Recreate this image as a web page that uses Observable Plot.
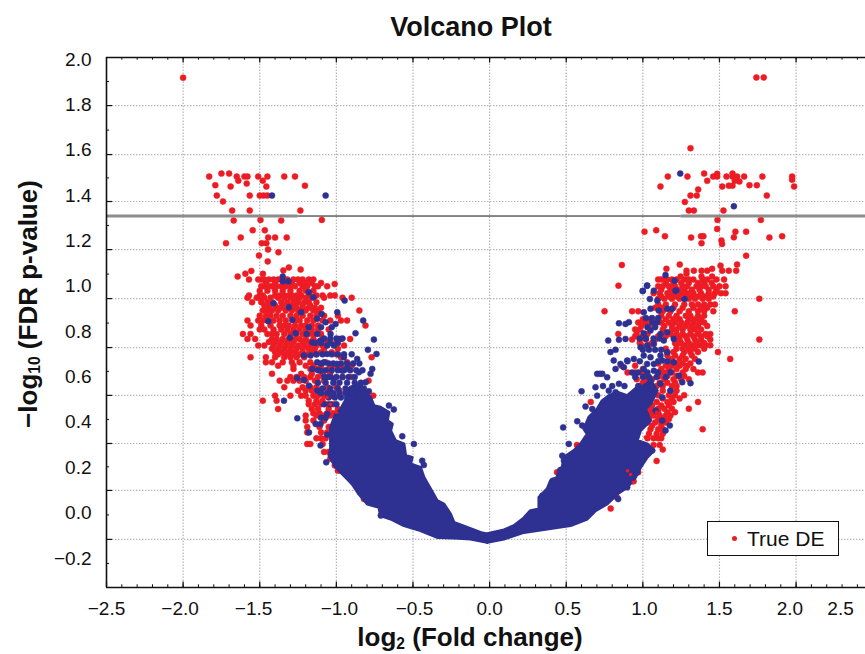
<!DOCTYPE html>
<html><head><meta charset="utf-8">
<script src="https://cdn.jsdelivr.net/npm/d3@7"></script>
<script src="https://cdn.jsdelivr.net/npm/@observablehq/plot@0.6"></script>
<style>
html,body{margin:0;padding:0;background:#fff;overflow:hidden}
body{width:865px;height:654px;position:relative;font-family:"Liberation Sans",Arial,sans-serif;color:#111}
#title{height:40px;box-sizing:border-box;padding-top:12px;padding-left:77px;text-align:center;font-weight:bold;font-size:27px;line-height:30px}
#chart svg{display:block}
#xlabel{position:absolute;left:0;width:940px;top:622px;height:30px;text-align:center;font-weight:bold;font-size:26px;line-height:30px;white-space:nowrap}
#ylabel{position:absolute;left:28px;top:304px;transform:translate(-50%,-50%) rotate(-90deg);font-weight:bold;font-size:26px;white-space:nowrap}
sub{font-size:60%;line-height:0;vertical-align:-0.2em}
#legend{position:absolute;left:707px;top:521px;width:130px;height:33px;border:1.5px solid #111;background:#fff;font-size:21px;line-height:33px;box-sizing:content-box}
#legend i{position:absolute;left:23.5px;top:13.5px;width:5.5px;height:5.5px;border-radius:50%;background:#ed1c24}
#legend span{position:absolute;left:39px;top:0}
</style></head><body>
<div id="title">Volcano Plot</div>
<div id="chart"></div>
<div id="xlabel">log<sub>2</sub> (Fold change)</div>
<div id="ylabel">−log<sub>10</sub> (FDR p-value)</div>
<div id="legend"><i></i><span>True DE</span></div>
<script>
const xTicks=[-2,-1.5,-1,-0.5,0,0.5,1,1.5,2];
const xTickLabels=["−2.5","−2.0","−1.5","−1.0","−0.5","0.0","0.5","1.0","1.5","2.0","2.5"];
const xLabelAt=[-2.5,-2.02,-1.54,-0.98,-0.49,0,0.51,1.01,1.5,1.96,2.29];
const yLabels=[2,1.8,1.6,1.4,1.2,1,0.8,0.6,0.4,0.2,0,-0.2];
const yGrid=[1.797,1.581,1.374,1.162,0.946,0.73,0.519,0.307,0.1,-0.116];
const yMinor=[1.903,1.689,1.478,1.268,1.054,0.838,0.625,0.413,0.204,-0.008,-0.222];
const xDomain=[-2.5,2.453], yDomain=[-0.328,2.009];
const threshold=1.31;

const redLeftOutliers=[[-2,1.92],[-1.83,1.484],[-1.75,1.497],[-1.7,1.497],[-1.65,1.484],[-1.64,1.466],[-1.6,1.484],[-1.58,1.484],[-1.79,1.446],[-1.69,1.44],[-1.585,1.453],[-1.51,1.484],[-1.45,1.484],[-1.48,1.466],[-1.457,1.44],[-1.34,1.484],[-1.27,1.484],[-1.205,1.444],[-1.78,1.4],[-1.565,1.4],[-1.5,1.4],[-1.475,1.4],[-1.45,1.4],[-1.74,1.374],[-1.68,1.334],[-1.565,1.334],[-1.235,1.334],[-1.67,1.29],[-1.495,1.293],[-1.36,1.29],[-1.095,1.293],[-1.546,1.247],[-1.467,1.247],[-1.624,1.215],[-1.445,1.215],[-1.4,1.215],[-1.324,1.215],[-1.72,1.19],[-1.487,1.19],[-1.457,1.19],[-1.446,1.162],[-1.378,1.15],[-1.505,1.136],[-1.448,1.11],[-1.31,1.083],[-1.346,1.07],[-1.233,1.074],[-1.555,1.068],[-1.594,1.056],[-1.644,1.043],[-1.479,1.055],[-1.011,1.01]];
const redLeftRows=[
[1.03,[-1.57,-1.51,-1.49,-1.47,-1.44,-1.41,-1.38,-1.35,-1.32,-1.28,-1.25,-1.22,-1.18,-1.15]],
[1.015,[-1.46,-1.4,-1.34,-1.29,-1.24,-1.2,-1.16,-1.1]],
[1.0,[-1.49,-1.47,-1.44,-1.42,-1.39,-1.36,-1.33,-1.3,-1.27,-1.22,-1.19,-1.14,-1.12,-1.06]],
[0.98,[-1.5,-1.45,-1.4,-1.35,-1.3,-1.24,-1.2,-1.15]],
[0.96,[-1.57,-1.5,-1.48,-1.4,-1.37,-1.34,-1.31,-1.29,-1.26,-1.23,-1.18,-1.13,-1.09,-1.04,-1.01]],
[0.95,[-1.58,-1.52,-1.5,-1.47,-1.43,-1.38,-1.34,-1.3,-1.27,-1.24,-1.2,-1.16,-1.08,-0.96,-0.9]],
[0.93,[-1.55,-1.49,-1.45,-1.42,-1.36,-1.32,-1.28,-1.25,-1.21,-1.18,-1.13]],
[0.915,[-1.47,-1.44,-1.4,-1.35,-1.31,-1.27,-1.22,-1.17]],
[0.905,[-1.44,-1.39,-1.36,-1.3,-1.26,-1.22,-1.18,-1.14,-1.1]],
[0.893,[-1.48,-1.45,-1.42,-1.38,-1.33,-1.29,-1.25,-1.2,-1.15,-1.12,-0.85]],
[0.87,[-1.5,-1.46,-1.43,-1.39,-1.35,-1.3,-1.26,-1.22,-1.17,-1.13,-1.08,-0.99]],
[0.849,[-1.58,-1.51,-1.48,-1.45,-1.41,-1.37,-1.33,-1.27,-1.24,-1.19,-1.15,-1.09,-1.04,-0.97,-0.93]],
[0.827,[-1.56,-1.49,-1.43,-1.37,-1.34,-1.31,-1.27,-1.23,-1.2,-1.16,-1.12,-0.81]],
[0.81,[-1.5,-1.47,-1.41,-1.36,-1.32,-1.28,-1.24,-1.2,-1.16,-1.12,-1.05]],
[0.79,[-1.61,-1.56,-1.45,-1.42,-1.39,-1.34,-1.3,-1.26,-1.22,-1.18,-1.15,-1.1]],
[0.768,[-1.58,-1.53,-1.42,-1.39,-1.35,-1.31,-1.27,-1.24,-1.2,-1.15,-1.09,-0.97,-0.91]],
[0.755,[-1.44,-1.4,-1.36,-1.32,-1.28,-1.22,-1.18,-1.12,-1.06,-1.0]],
[0.739,[-1.51,-1.47,-1.41,-1.37,-1.33,-1.29,-1.25,-1.21,-1.17,-1.13,-1.09,-0.95]],
[0.725,[-1.42,-1.38,-1.34,-1.3,-1.26,-1.22,-1.18,-1.14,-1.08,-0.99]],
[0.709,[-1.4,-1.36,-1.31,-1.27,-1.22,-1.16,-1.1,-1.03]],
[0.7,[-1.38,-1.33,-1.29,-1.24,-1.19,-1.13,-1.0]],
[0.687,[-1.56,-1.46,-1.4,-1.34,-1.3,-1.26,-1.21,-0.97,-0.77]],
[0.665,[-1.46,-1.42,-1.35,-1.29,-1.24,-1.17,-1.07,-0.93]],
[0.65,[-1.38,-1.28,-1.2,-1.15,-1.1,-1.02,-0.97,-0.9]],
[0.635,[-1.28,-1.17,-1.13,-1.05,-0.99,-0.94]],
[0.614,[-1.42,-1.23,-1.16,-1.09,-1.04]],
[0.6,[-1.3,-1.26,-1.21,-1.17,-1.12,-1.07,-0.96,-0.9]],
[0.584,[-1.37,-1.32,-1.28,-1.24,-1.2,-1.14,-1.08,-0.79]],
[0.555,[-1.34,-1.22,-1.17,-1.13,-1.06,-1.0]],
[0.54,[-1.25,-1.2,-1.16,-1.1,-1.05,-0.98]],
[0.518,[-1.4,-1.3,-1.23,-1.2,-1.15,-1.12,-1.08,-1.03,-0.98,-0.76]],
[0.496,[-1.48,-1.39,-1.18,-1.13,-1.09]],
[0.48,[-1.18,-1.14,-1.1,-1.06,-1.02]],
[0.459,[-1.38,-1.16,-1.12,-1.05,-0.99]],
[0.44,[-1.15,-1.11,-1.06,-1.02]],
[0.43,[-1.2,-1.13,-1.09,-1.04]],
[0.408,[-1.2,-1.15,-1.08]],
[0.38,[-1.19,-1.11,-1.05]],
[0.356,[-1.19,-1.1,-1.06]],
[0.33,[-1.13,-1.1,-1.07]],
[0.305,[-1.19,-1.17,-1.09]],
[0.27,[-1.08,-1.05]],
[0.24,[-1.04,-1.02]],
[0.21,[-1.01,-0.97]],
[0.187,[-0.99,-0.97]],
[0.135,[-0.88,-0.85]],
[0.062,[-0.82]]];
const blueLeftPoints=[[-1.42,1.4],[-1.07,1.4],[-1.35,1.043],[-1.35,1.022],[-1.313,1.022],[-1.18,0.974],[-1.15,0.952],[-1.41,0.925],[-1.31,0.908],[-1.23,0.886],[-0.946,0.937],[-0.994,0.886],[-1.096,0.878],[-0.825,0.849],[-1.125,0.857],[-1.444,0.846],[-1.07,0.842],[-1.005,0.834],[-1.288,0.852],[-0.875,0.793],[-1.266,0.793],[-1.194,0.79],[-1.125,0.79],[-1.038,0.79],[-1.303,0.773],[-1.157,0.753],[-1.103,0.761],[-0.983,0.768],[-0.755,0.765],[-1.06,0.739],[-1.016,0.739],[-0.794,0.72],[-0.738,0.702],[-1.212,0.695],[-1.168,0.695],[-1.06,0.702],[-0.951,0.687],[-0.864,0.68],[-1.125,0.665],[-1.081,0.665],[-0.994,0.658],[-0.766,0.636],[-0.929,0.643],[-0.853,0.621],[-0.777,0.614],[-1.157,0.636],[-1.103,0.628],[-1.255,0.596],[-1.212,0.587],[-1.06,0.599],[-1.016,0.592],[-0.961,0.628],[-0.809,0.577],[-0.788,0.537],[-1.179,0.562],[-1.125,0.54],[-1.342,0.496],[-1.255,0.418],[-1.179,0.356],[-1.103,0.298],[-1.066,0.224],[-1.06,0.437],[-1.103,0.393],[-1.135,0.393],[-1.06,0.346],[-0.657,0.474],[-0.625,0.457],[-0.57,0.339],[-0.494,0.305],[-0.44,0.231],[-0.429,0.212],[-0.71,-0.011],[-1.08,0.6],[-1.04,0.6],[-1.0,0.6],[-0.96,0.6],[-0.92,0.6],[-0.88,0.6],[-1.09,0.55],[-1.04,0.55],[-0.99,0.55],[-0.94,0.55],[-0.9,0.55],[-0.86,0.55],[-0.82,0.55],[-1.05,0.51],[-1.01,0.51],[-0.97,0.51],[-0.93,0.51],[-0.89,0.51],[-0.85,0.51],[-0.8,0.51]];
const blueLeftRows=[
[0.82,[-1.18,-1.1,-1.03]],
[0.77,[-1.08,-1.04,-1.0,-0.96]],
[0.75,[-1.14,-1.1,-1.04,-0.99]],
[0.7,[-1.13,-1.09,-1.03,-0.99,-0.95,-0.9]],
[0.66,[-1.1,-1.05,-1.02,-0.97,-0.93,-0.89,-0.85]],
[0.63,[-1.12,-1.07,-1.03,-0.99,-0.95,-0.91,-0.87,-0.83]],
[0.575,[-1.12,-1.07,-1.02,-0.98,-0.93,-0.88,-0.84]],
[0.53,[-1.1,-1.06,-1.02,-0.98,-0.94,-0.9]],
[0.48,[-1.08,-1.04,-1.0]],
[0.42,[-1.1,-1.07]]];
const massLeft=[[-1.038,0.283],[-1.038,0.378],[-1.005,0.437],[-0.972,0.459],[-0.929,0.511],[-0.918,0.548],[-0.885,0.562],[-0.842,0.57],[-0.82,0.54],[-0.777,0.511],[-0.755,0.474],[-0.712,0.467],[-0.657,0.445],[-0.668,0.408],[-0.635,0.393],[-0.646,0.364],[-0.614,0.32],[-0.559,0.305],[-0.548,0.254],[-0.505,0.246],[-0.516,0.217],[-0.451,0.202],[-0.429,0.158],[-0.385,0.106],[-0.342,0.055],[-0.298,0.04],[-0.255,-0.004],[-0.233,-0.041],[-0.146,-0.063],[-0.06,-0.085],[0,-0.095],[-0.016,-0.129],[-0.125,-0.114],[-0.233,-0.11],[-0.342,-0.107],[-0.451,-0.077],[-0.559,-0.055],[-0.646,-0.026],[-0.712,-0.011],[-0.722,0.026],[-0.798,0.04],[-0.853,0.084],[-0.896,0.128],[-0.94,0.158],[-1.005,0.202],[-1.048,0.254]];
const massRight=[[-0.059,-0.099],[0.007,-0.088],[0.094,-0.074],[0.159,-0.055],[0.224,-0.021],[0.267,0.011],[0.322,0.018],[0.322,0.07],[0.376,0.107],[0.398,0.143],[0.441,0.158],[0.452,0.195],[0.474,0.202],[0.485,0.246],[0.55,0.276],[0.594,0.305],[0.637,0.349],[0.615,0.371],[0.648,0.423],[0.702,0.459],[0.735,0.496],[0.778,0.518],[0.833,0.533],[0.898,0.518],[0.963,0.555],[1.006,0.562],[1.05,0.584],[1.094,0.54],[1.05,0.481],[1.017,0.459],[1.05,0.408],[0.985,0.364],[0.963,0.32],[1.028,0.305],[1.072,0.276],[1.028,0.246],[0.985,0.202],[0.952,0.158],[0.898,0.114],[0.833,0.084],[0.767,0.04],[0.691,0.011],[0.637,-0.026],[0.528,-0.055],[0.376,-0.07],[0.224,-0.085],[0.094,-0.114],[-0.015,-0.129]];
const redRightOutliers=[[1.741,1.921],[1.789,1.921],[1.311,1.609],[1.163,1.484],[1.291,1.484],[1.4,1.497],[1.42,1.465],[1.459,1.484],[1.485,1.496],[1.485,1.484],[1.546,1.484],[1.585,1.497],[1.585,1.484],[1.615,1.484],[1.661,1.484],[1.78,1.484],[1.974,1.484],[1.974,1.47],[1.115,1.44],[1.361,1.427],[1.518,1.44],[1.561,1.444],[1.585,1.444],[1.6,1.466],[1.63,1.462],[1.696,1.446],[1.744,1.446],[1.987,1.44],[1.311,1.4],[1.352,1.4],[1.809,1.4],[1.274,1.372],[1.3,1.334],[1.333,1.334],[1.526,1.334],[1.487,1.293],[1.77,1.293],[1.011,1.241],[1.087,1.247],[1.144,1.221],[1.315,1.215],[1.38,1.221],[1.395,1.221],[1.383,1.19],[1.485,1.253],[1.513,1.202],[1.517,1.187],[1.604,1.241],[1.594,1.216],[1.674,1.241],[1.826,1.215],[1.909,1.221],[1.674,1.135],[0.863,1.094],[0.841,1.003],[1.241,1.096],[1.154,1.077],[1.285,1.069],[1.333,1.069],[1.383,1.069],[1.42,1.069],[1.452,1.077],[1.507,1.091],[1.518,1.069],[1.561,1.069],[1.609,1.069],[1.615,1.096],[1.285,1.055],[1.246,1.043],[1.383,1.043],[1.452,1.043]];
const redRightRows=[
[1.03,[1.1,1.12,1.14,1.16,1.19,1.22,1.27,1.3,1.33,1.39,1.42,1.48,1.53]],
[1.015,[1.15,1.2,1.25,1.3,1.36,1.4,1.45]],
[1.0,[1.1,1.13,1.17,1.21,1.26,1.29,1.35,1.38,1.41,1.46,1.5,1.54]],
[0.985,[1.12,1.18,1.23,1.27,1.32,1.37,1.43,1.48]],
[0.97,[1.07,1.11,1.16,1.2,1.25,1.29,1.33,1.38,1.43,1.47,1.51,1.54]],
[0.955,[1.12,1.17,1.22,1.28,1.32,1.36,1.41,1.46]],
[0.945,[1.1,1.14,1.19,1.24,1.3,1.34,1.39,1.43,1.76]],
[0.92,[1.1,1.15,1.21,1.27,1.32,1.36,1.4,1.44,1.47]],
[0.905,[1.08,1.12,1.2,1.26,1.33,1.38,1.42]],
[0.89,[0.75,0.93,0.97,1.13,1.18,1.24,1.3,1.36,1.4,1.46,1.6]],
[0.87,[1.12,1.17,1.22,1.28,1.31,1.36,1.4]],
[0.855,[1.0,1.05,1.1,1.15,1.2,1.24,1.3,1.34,1.38]],
[0.84,[0.97,1.0,1.02,1.12,1.17,1.21,1.25,1.29,1.33,1.37,1.4]],
[0.825,[0.99,1.04,1.08,1.14,1.19,1.24,1.28,1.32,1.36,1.42]],
[0.81,[0.95,0.98,1.13,1.19,1.22,1.26,1.31,1.34,1.38]],
[0.79,[0.84,0.96,1.03,1.12,1.18,1.22,1.26,1.31,1.36,1.41,1.44]],
[0.78,[0.95,1.0,1.1,1.15,1.2,1.24,1.28,1.33,1.38,1.42]],
[0.765,[0.93,0.98,1.02,1.08,1.24,1.29,1.34,1.38,1.44,1.76]],
[0.75,[0.98,1.06,1.21,1.25,1.3,1.35,1.4]],
[0.74,[0.99,1.04,1.22,1.27,1.32,1.37,1.41,1.44]],
[0.725,[1.15,1.22,1.26,1.3,1.34,1.4]],
[0.71,[1.16,1.2,1.27,1.31,1.36,1.49]],
[0.695,[1.16,1.21,1.26,1.32]],
[0.68,[1.19,1.24,1.28,1.34,1.57]],
[0.66,[1.1,1.17,1.22,1.26,1.31]],
[0.65,[0.86,0.95,1.15,1.19,1.24,1.29]],
[0.635,[1.0,1.12,1.17,1.22,1.28,1.33]],
[0.62,[0.9,0.95,1.0,1.1,1.14,1.19,1.26,1.36,1.39]],
[0.605,[1.01,1.11,1.16,1.22,1.27]],
[0.59,[0.96,1.02,1.06,1.14,1.2,1.25,1.3]],
[0.575,[1.0,1.05,1.11,1.16,1.21]],
[0.56,[0.98,1.03,1.09,1.13,1.19,1.22]],
[0.54,[1.05,1.13,1.18,1.22]],
[0.52,[0.84,1.1,1.17,1.21,1.27]],
[0.505,[1.13,1.19,1.24]],
[0.49,[0.66,1.09,1.16,1.2,1.36]],
[0.475,[1.06,1.12,1.17]],
[0.46,[1.02,1.05,1.1,1.14,1.19,1.3]],
[0.445,[1.05,1.1,1.16,1.21]],
[0.43,[1.03,1.07,1.11,1.15,1.18]],
[0.415,[1.04,1.1,1.14,1.17]],
[0.4,[1.03,1.08,1.12,1.15]],
[0.385,[1.06,1.12]],
[0.37,[1.05,1.1,1.13,1.39]],
[0.35,[1.04,1.09,1.13]],
[0.33,[1.03,1.07,1.1,1.12]],
[0.3,[0.57,1.07,1.11]],
[0.28,[1.13]],
[0.23,[1.09]],
[0.18,[0.44,0.48,0.92,0.95,0.97]],
[0.14,[0.9,0.93,0.94]],
[0.07,[0.83]],
[0.02,[0.79]]];
const blueRightPoints=[[1.594,1.353],[1.244,1.497],[1.148,1.05],[1.207,1.025],[1.218,0.981],[1.028,1.002],[1.0,0.98],[1.046,0.944],[1.272,0.944],[0.844,0.837],[0.887,0.834],[0.909,0.842],[0.774,0.761],[0.844,0.764],[0.887,0.768],[0.822,0.72],[0.789,0.71],[0.81,0.673],[0.854,0.658],[0.898,0.673],[0.941,0.68],[0.822,0.636],[0.702,0.614],[0.72,0.614],[0.735,0.614],[0.767,0.599],[0.876,0.643],[0.844,0.57],[0.691,0.555],[0.702,0.518],[0.778,0.54],[0.822,0.533],[0.6,0.537],[0.626,0.47],[0.67,0.459],[0.572,0.405],[0.604,0.386],[0.48,0.378],[0.517,0.305],[0.474,0.253],[0.485,0.232],[0.413,0.143],[0.344,0.077],[0.999,0.979],[1.028,1.004],[1.05,0.901],[1.006,0.886],[1.104,0.893],[1.159,0.901],[1.191,0.901],[1.061,0.842],[1.094,0.842],[1.006,0.793],[1.05,0.805],[1.115,0.79],[1.159,0.798],[0.985,0.731],[1.028,0.739],[1.072,0.746],[1.137,0.761],[1.202,0.768],[1.006,0.695],[1.05,0.687],[1.115,0.695],[1.159,0.709],[1.028,0.658],[1.072,0.658],[1.126,0.673],[1.202,0.665],[1.365,0.668],[1.006,0.636],[1.072,0.628],[1.18,0.621],[1.235,0.606],[1.257,0.577],[1.311,0.573],[1.05,0.584],[1.115,0.57],[1.18,0.54],[1.126,0.511],[1.083,0.452],[1.126,0.408],[1.176,0.386],[1.148,0.364],[1.061,0.276],[1.028,0.29],[0.985,0.305],[0.985,0.224],[0.963,0.18],[0.898,0.114],[0.839,0.062],[1.213,0.981],[1.094,0.937],[1.072,0.981]];
const blueRightRows=[
[0.86,[1.02,1.06,1.1]],
[0.82,[1.03,1.08]],
[0.77,[0.98,1.02,1.07,1.11]],
[0.72,[1.0,1.04,1.08,1.12]],
[0.67,[0.9,0.98,1.1,1.16]],
[0.62,[0.93,0.97,1.03,1.1]],
[0.6,[0.95,1.0,1.04,1.09,1.15]],
[0.56,[0.74,0.8,0.88,0.97,1.05]]];
const redFlecks=[[-1.06,0.51],[-1.1,0.49],[-1.04,0.48],[-1.0,0.445],[1.05,0.46],[1.09,0.445],[1.05,0.38],[1.083,0.335],[1.017,0.335],[0.92,0.17],[0.9,0.187],[0.94,0.136],[0.66,0.49]];

const RED="#ed1c24", BLUE="#2e3192";
const rowsToPoints=rows=>rows.flatMap(([y,xs])=>xs.map(x=>[x,y]));
const redPoints=[...redLeftOutliers,...rowsToPoints(redLeftRows),...redRightOutliers,...rowsToPoints(redRightRows)];
const bluePoints=[...blueLeftPoints,...rowsToPoints(blueLeftRows),...blueRightPoints,...rowsToPoints(blueRightRows)];
const xMinor=d3.range(-24,25).map(d=>d/10);
const yTop=yDomain[1], yBot=yDomain[0], xL=xDomain[0], xR=xDomain[1];
const grid={stroke:"#b5b5b5",strokeWidth:1.2,strokeDasharray:"1.4,1.6"};
const pt={x:d=>d[0],y:d=>d[1]};

const plot=Plot.plot({
  width:865,height:590,marginLeft:106,marginRight:0,marginTop:17,marginBottom:43,
  style:{fontFamily:"'Liberation Sans',Arial,sans-serif",background:"transparent",color:"#111"},
  x:{domain:xDomain,axis:null},
  y:{domain:yDomain,axis:null},
  marks:[
    Plot.ruleX(xTicks,{y1:yBot,y2:yTop,...grid}),
    Plot.ruleY(yGrid,{x1:xL,x2:xR,...grid}),
    Plot.dot(redPoints,{...pt,r:3,fill:RED,stroke:RED,strokeWidth:0.5}),
    Plot.line([...massLeft,massLeft[0]],{...pt,fill:BLUE,stroke:BLUE,strokeWidth:3}),
    Plot.line([...massRight,massRight[0]],{...pt,fill:BLUE,stroke:BLUE,strokeWidth:3}),
    Plot.dot(bluePoints,{...pt,r:3,fill:BLUE,stroke:BLUE,strokeWidth:0.5}),
    Plot.dot(redFlecks,{...pt,r:1.8,fill:RED}),
    Plot.ruleY([threshold],{x1:xL,x2:-1.25,stroke:"#8c8c8c",strokeWidth:3}),
    Plot.ruleY([threshold],{x1:1.25,x2:xR,stroke:"#8c8c8c",strokeWidth:3}),
    Plot.ruleY([threshold],{x1:-1.25,x2:1.25,stroke:"#111",strokeWidth:1}),
    Plot.ruleX(xMinor,{y1:yBot,y2:yBot+0.012,stroke:"#111",strokeWidth:1}),
    Plot.ruleX(xMinor,{y1:yTop,y2:yTop-0.012,stroke:"#111",strokeWidth:1}),
    Plot.ruleX([-2.5,...xTicks],{y1:yBot,y2:yBot+0.024,stroke:"#111",strokeWidth:1.2}),
    Plot.ruleX(xTicks,{y1:yTop,y2:yTop-0.024,stroke:"#111",strokeWidth:1.2}),
    Plot.ruleY(yMinor,{x1:xL,x2:xL+0.02,stroke:"#111",strokeWidth:1}),
    Plot.ruleY(yGrid,{x1:xL,x2:xL+0.04,stroke:"#111",strokeWidth:1.2}),
    Plot.ruleX([xL],{y1:yBot,y2:yTop,stroke:"#111",strokeWidth:1.6}),
    Plot.ruleY([yTop],{x1:xL,x2:xR,stroke:"#111",strokeWidth:1.6}),
    Plot.ruleY([yBot],{x1:xL,x2:xR,stroke:"#111",strokeWidth:1.6}),
    Plot.text(xTickLabels,{x:(d,i)=>xLabelAt[i],y:yBot,dy:21,text:d=>d,fontSize:19,fill:"#111"}),
    Plot.text(yLabels,{x:xL,y:d=>d,text:d=>d3.format(".1f")(d),textAnchor:"end",dx:-15,fontSize:19,fill:"#111"})
  ]
});
document.getElementById("chart").append(plot);
</script>
</body></html>
